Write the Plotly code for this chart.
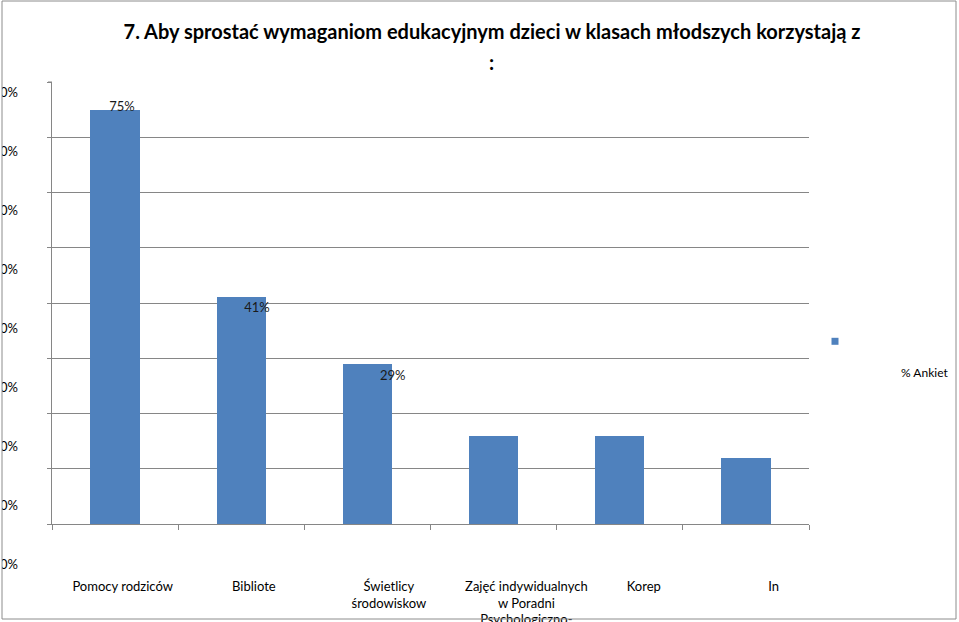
import plotly.graph_objects as go

# ---- data ----
categories = ["Pomocy rodziców", "Biblioteki", "Świetlicy środowiskowej",
              "Zajęć indywidualnych w Poradni", "Korepetycji", "Internetu"]
tick_labels = ["Pomocy rodziców", "Bibliote", "Świetlicy<br>środowiskow",
               "Zajęć indywidualnych<br>w Poradni<br>Psychologiczno-", "Korep", "In"]
values = [75, 41, 29, 16, 16, 12]          # percent
labelled = [True, True, True, False, False, False]
y_ticks = [0, 10, 20, 30, 40, 50, 60, 70, 80]
series_name = "% Ankiet"
title_line1 = "7. Aby sprostać wymaganiom edukacyjnym dzieci w klasach młodszych korzystają z"
title_line2 = ":"

# ---- style ----
W, H = 959, 622
FONT = "Lato"
BAR = "#4F81BD"
GRID = "#868686"
label_dx = [0.055, 0.125, 0.20]     # horizontal offsets of data labels (category units)
label_dy = [0.4, -2.0, -2.4]        # vertical offsets of data labels (percent units)
tick_dx = [0.06, 0.10, 0.17, 0.26, 0.19, 0.22]

def px_x(p):
    return p / W

def px_y(p):
    return (H - p) / H

idx = list(range(len(values)))

fig = go.Figure()
fig.add_trace(go.Bar(
    x=idx, y=values, width=0.39, name=series_name,
    marker=dict(color=BAR, line=dict(width=0)), hoverinfo="skip", showlegend=False,
))
# legend entry for the series (small square key as in the reference)
fig.add_trace(go.Scatter(
    x=[None], y=[None], mode="markers",
    marker=dict(symbol="square", size=7, color=BAR),
    name="\u00a0<br>\u00a0<br>" + "\u00a0" * 15 + series_name, showlegend=True, hoverinfo="skip",
))
lab_i = [i for i in idx if labelled[i]]
fig.add_trace(go.Scatter(
    x=[i + label_dx[k] for k, i in enumerate(lab_i)],
    y=[values[i] + label_dy[k] for k, i in enumerate(lab_i)],
    mode="text", text=[f"{values[i]}%" for i in lab_i],
    textfont=dict(family=FONT, size=13, color="#1a1a1a"),
    showlegend=False, hoverinfo="skip", cliponaxis=False,
))
# helper traces so the label-only axes are drawn
fig.add_trace(go.Scatter(x=[None], y=[None], yaxis="y2", showlegend=False, hoverinfo="skip"))
fig.add_trace(go.Scatter(x=[None], y=[None], xaxis="x2", showlegend=False, hoverinfo="skip"))

fig.update_layout(
    width=W, height=H,
    margin=dict(l=0, r=0, t=0, b=0, autoexpand=False),
    paper_bgcolor="white", plot_bgcolor="rgba(0,0,0,0)",
    font=dict(family=FONT, size=13, color="#000"),
    bargap=0,
    title=dict(text=title_line1, x=px_x(492), xanchor="center", y=px_y(32), yanchor="middle",
               xref="container", yref="container",
               font=dict(family=FONT, size=20, color="#000", weight="bold")),
    xaxis=dict(domain=[px_x(52), px_x(809)], range=[-0.5, len(values) - 0.5],
               tickmode="array", tickvals=[i - 0.5 for i in range(len(values) + 1)],
               ticks="outside", ticklen=5, tickcolor=GRID, showticklabels=False, automargin=False,
               showline=True, linecolor=GRID, showgrid=False, zeroline=False, fixedrange=True),
    yaxis=dict(domain=[px_y(524), px_y(82)], range=[0, 80], tickmode="array", tickvals=y_ticks,
               ticks="outside", ticklen=4, tickcolor=GRID, showticklabels=False, automargin=False,
               showline=True, linecolor=GRID, showgrid=True, gridcolor=GRID, gridwidth=1,
               zeroline=False, fixedrange=True),
    yaxis2=dict(domain=[px_y(564), px_y(92)], range=[0, 80], anchor="free", position=px_x(18),
                tickmode="array", tickvals=y_ticks, ticktext=[f"{t}%" for t in y_ticks],
                ticks="", showline=False, showgrid=False, zeroline=False, side="left", automargin=False,
                tickfont=dict(family=FONT, size=13, color="#000"), fixedrange=True),
    xaxis2=dict(overlaying="x", anchor="y", side="bottom", range=[-0.5, len(values) - 0.5],
                tickmode="array", tickvals=[i + d for i, d in zip(idx, tick_dx)], ticktext=tick_labels,
                ticks="outside", ticklen=50, tickcolor="rgba(0,0,0,0)", showline=False, automargin=False,
                showgrid=False, zeroline=False, tickfont=dict(family=FONT, size=13, color="#000"),
                tickangle=0, fixedrange=True),
    legend=dict(x=px_x(815), y=px_y(327), xanchor="left", yanchor="top", valign="top",
                bgcolor="rgba(0,0,0,0)", font=dict(family=FONT, size=12, color="#000"),
                itemwidth=30),
    annotations=[dict(text=title_line2, x=px_x(491), y=px_y(48), xref="paper", yref="paper",
                      showarrow=False, font=dict(family=FONT, size=20, color="#000", weight="bold"))],
    shapes=[
        dict(type="rect", xref="paper", yref="paper", x0=0, x1=px_x(2), y0=0, y1=1,
             fillcolor="white", line=dict(width=0), layer="above"),
        dict(type="rect", xref="paper", yref="paper", x0=px_x(2), x1=px_x(956), y0=px_y(619), y1=px_y(1),
             fillcolor="rgba(0,0,0,0)", line=dict(color="#8c8c8c", width=1), layer="above"),
        dict(type="line", xref="paper", yref="paper", x0=px_x(48), x1=px_x(52), y0=px_y(82), y1=px_y(82),
             line=dict(color=GRID, width=1)),
    ],
)

fig.write_html("out.html")
